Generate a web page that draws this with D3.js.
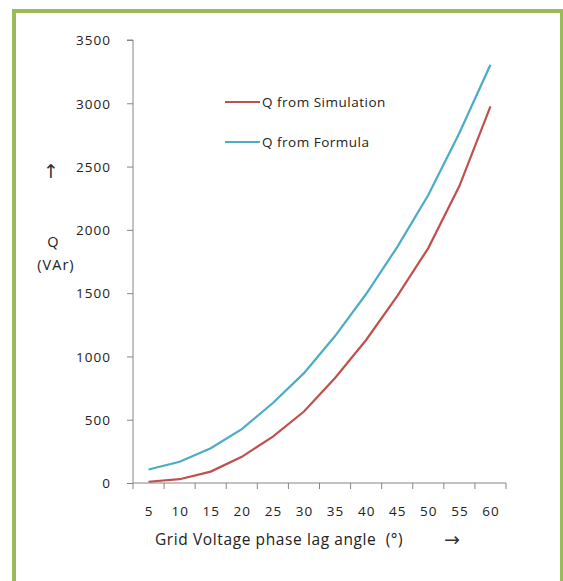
<!DOCTYPE html>
<html><head><meta charset="utf-8">
<script src="https://cdn.jsdelivr.net/npm/d3@7"></script>
<style>body{margin:0;background:#fff;} svg{display:block;} text{white-space:pre;}</style>
</head><body>
<script>
const angles = ["5","10","15","20","25","30","35","40","45","50","55","60"];
const qSimulation = [10, 30, 90, 207, 367, 565, 830, 1130, 1477, 1856, 2346, 2975];
const qFormula = [107, 168, 275, 426, 632, 868, 1161, 1493, 1864, 2275, 2765, 3305];
const yTicks = [0, 500, 1000, 1500, 2000, 2500, 3000, 3500];
const seriesNames = ["Q from Simulation", "Q from Formula"];
const seriesColors = ["#C0504D", "#4BACC6"];

(function () {
const W = 563, H = 581;
const svg = d3.select("body").append("svg").attr("width", W).attr("height", H);
svg.append("rect").attr("x", 14).attr("y", 11).attr("width", 548).attr("height", 620)
  .attr("fill", "#fff").attr("stroke", "#9BBB59").attr("stroke-width", 4);

const pLeft = 133, pRight = 506, pTop = 40, pBottom = 483;
const x = d3.scaleBand().domain(angles).range([pLeft, pRight]);
const y = d3.scaleLinear().domain([0, 3500]).range([pBottom, pTop]);
const font = "'Open Sans', 'DejaVu Sans', sans-serif";
const arrowFont = "'DejaVu Sans', sans-serif";
const axisColor = "#868686";
const txt = "#222";

// y axis
const ya = svg.append("g").attr("transform", `translate(${pLeft},0)`)
  .call(d3.axisLeft(y).tickValues(yTicks).tickSize(6).tickPadding(16).tickFormat(d3.format("d")));
ya.select(".domain").attr("stroke", axisColor).attr("d", `M-6,${pTop}H0V${pBottom}`);
ya.selectAll(".tick line").attr("stroke", axisColor);
ya.selectAll(".tick text").attr("font-family", font).attr("font-size", 13.5)
  .attr("letter-spacing", 1).attr("fill", txt).attr("dy", "0.35em");

// x axis
const xa = svg.append("g").attr("transform", `translate(0,${pBottom})`)
  .call(d3.axisBottom(x).tickSize(0).tickPadding(23));
xa.select(".domain").attr("stroke", axisColor).attr("d", `M${pLeft},0H${pRight}`);
xa.selectAll(".tick text").attr("font-family", font).attr("font-size", 13.5)
  .attr("letter-spacing", 1).attr("fill", txt).attr("dx", 0.5);
const bounds = angles.map(a => x(a)).concat([pRight]);
svg.append("g").selectAll("line").data(bounds).join("line")
  .attr("x1", d => d).attr("x2", d => d).attr("y1", pBottom).attr("y2", pBottom + 6)
  .attr("stroke", axisColor);

// lines
const line = d3.line().x((d, i) => x(angles[i]) + x.bandwidth() / 2).y(d => y(d));
[qSimulation, qFormula].forEach((s, k) => {
  svg.append("path").datum(s).attr("d", line).attr("fill", "none")
    .attr("stroke", seriesColors[k]).attr("stroke-width", 2.2);
});

// legend
seriesNames.forEach((n, k) => {
  const ly = 102 + k * 40;
  svg.append("line").attr("x1", 225).attr("x2", 260).attr("y1", ly).attr("y2", ly)
    .attr("stroke", seriesColors[k]).attr("stroke-width", 2.2);
  svg.append("text").attr("x", 262).attr("y", ly + 5).text(n)
    .attr("font-family", font).attr("font-size", 13.5).attr("letter-spacing", 0.5).attr("fill", txt);
});

// axis titles
svg.append("text").attr("x", 155).attr("y", 545).text("Grid Voltage phase lag angle  (°)")
  .attr("font-family", font).attr("font-size", 15.5).attr("letter-spacing", 0.6).attr("fill", txt);
svg.append("text").attr("x", 452).attr("y", 546).text("→")
  .attr("font-family", arrowFont).attr("font-size", 19).attr("fill", "#333").attr("text-anchor", "middle");
svg.append("text").attr("x", 51).attr("y", 178).text("↑")
  .attr("font-family", arrowFont).attr("font-size", 19).attr("fill", "#333").attr("text-anchor", "middle");
svg.append("text").attr("x", 53).attr("y", 247).text("Q")
  .attr("font-family", font).attr("font-size", 14.5).attr("fill", txt).attr("text-anchor", "middle");
svg.append("text").attr("x", 56).attr("y", 270).text("(VAr)")
  .attr("font-family", font).attr("font-size", 14.5).attr("letter-spacing", 1).attr("fill", txt).attr("text-anchor", "middle");
})();
</script>
</body></html>
